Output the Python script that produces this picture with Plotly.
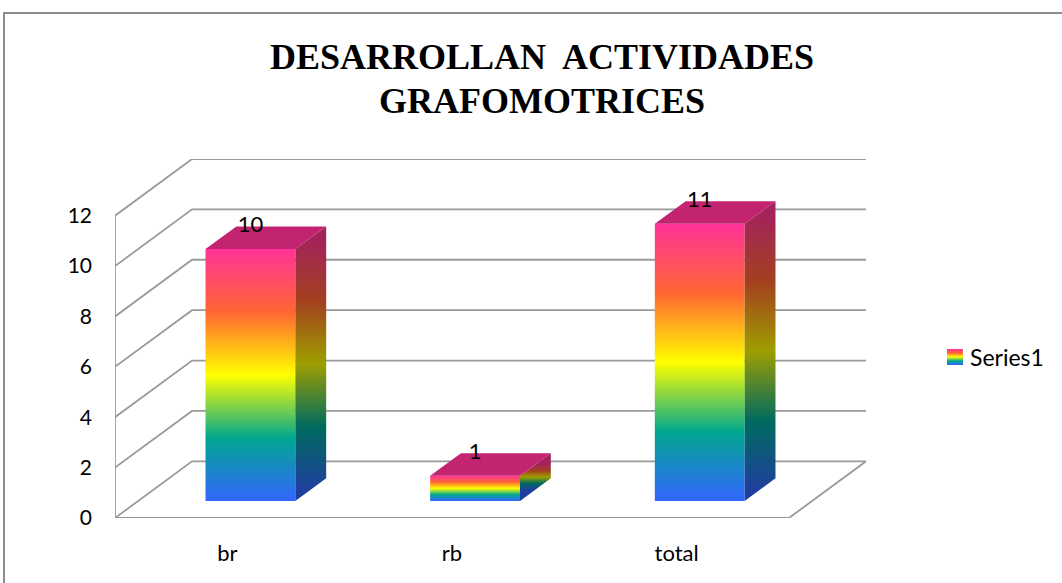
import plotly.graph_objects as go

# ---------------- data ----------------
categories = ["br", "rb", "total"]
values = [10, 1, 11]
y_ticks = [0, 2, 4, 6, 8, 10, 12]
series_name = "Series1"
title_lines = ["DESARROLLAN\u00a0 ACTIVIDADES", "GRAFOMOTRICES"]

# ---------------- style / geometry ----------------
W, H = 1062, 583
PL, PR, PT, PB = 115, 866, 159, 518          # plot area in pixels
DX, DY = 0.343, 2.25                          # depth projection (axis units)
BW = 0.40                                     # bar width (category units)
D0, D1 = 0.3, 0.7                             # bar depth span (fraction)
YMAX = max(y_ticks)

front_scale = [[0, '#3366FF'], [0.25, '#01A78F'], [0.5, '#FFFF00'],
               [0.75, '#FF6633'], [1, '#FF3399']]
side_scale = [[0, '#1F3F9E'], [0.25, '#006B5F'], [0.5, '#9E9E00'],
              [0.75, '#A3401E'], [1, '#A3235C']]
top_color = '#C2246F'
grid_color = '#9A9A9A'
FONT = "Lato"


def proj(x, v, d):
    return x + d * DX, v + d * DY


def px2paper_x(p):
    return p / W


def px2paper_y(p):
    return (H - p) / H


fig = go.Figure()

n = len(categories)
xmin, xmax = -0.5, n - 0.5

# ---- walls / gridlines ----
gx, gy = [], []
for t in y_ticks:
    for (x, v, d) in [(xmin, t, 0), (xmin, t, 1), (xmax, t, 1)]:
        a, b = proj(x, v, d)
        gx.append(a); gy.append(b)
    gx.append(None); gy.append(None)
# front-left vertical axis line
for (x, v, d) in [(xmin, 0, 0), (xmin, YMAX, 0)]:
    a, b = proj(x, v, d); gx.append(a); gy.append(b)
gx.append(None); gy.append(None)
# floor front and right edges
for (x, v, d) in [(xmin, 0, 0), (xmax, 0, 0), (xmax, 0, 1)]:
    a, b = proj(x, v, d); gx.append(a); gy.append(b)

fig.add_trace(go.Scatter(x=gx, y=gy, mode='lines',
                         line=dict(color=grid_color, width=1.8),
                         hoverinfo='skip', showlegend=False))

# ---- 3D bars ----
for i, v in enumerate(values):
    xl, xr = i - BW / 2, i + BW / 2
    # front face
    pts = [proj(xl, 0, D0), proj(xr, 0, D0), proj(xr, v, D0), proj(xl, v, D0), proj(xl, 0, D0)]
    fig.add_trace(go.Scatter(
        x=[p[0] for p in pts], y=[p[1] for p in pts], mode='lines',
        fill='toself', line=dict(width=0),
        fillgradient=dict(type='vertical', colorscale=front_scale,
                          start=D0 * DY, stop=v + D0 * DY),
        name=series_name, showlegend=False, hoverinfo='skip'))
    # side face
    pts = [proj(xr, 0, D0), proj(xr, 0, D1), proj(xr, v, D1), proj(xr, v, D0), proj(xr, 0, D0)]
    fig.add_trace(go.Scatter(
        x=[p[0] for p in pts], y=[p[1] for p in pts], mode='lines',
        fill='toself', line=dict(width=0),
        fillgradient=dict(type='vertical', colorscale=side_scale,
                          start=(D0 + D1) / 2 * DY, stop=v + (D0 + D1) / 2 * DY),
        showlegend=False, hoverinfo='skip'))
    # top face
    pts = [proj(xl, v, D0), proj(xr, v, D0), proj(xr, v, D1), proj(xl, v, D1), proj(xl, v, D0)]
    fig.add_trace(go.Scatter(
        x=[p[0] for p in pts], y=[p[1] for p in pts], mode='lines',
        fill='toself', fillcolor=top_color, line=dict(width=0),
        showlegend=False, hoverinfo='skip'))

# ---- data labels ----
lx = [i + D0 * DX for i in range(n)]
ly = [v + D1 * DY for v in values]
fig.add_trace(go.Scatter(x=lx, y=ly, mode='text', text=[str(v) for v in values],
                         textposition='middle center',
                         textfont=dict(family=FONT, size=22, color='#000000'),
                         showlegend=False, hoverinfo='skip', cliponaxis=False))

# ---- legend swatch (own small axes) ----
fig.add_trace(go.Scatter(x=[0, 1, 1, 0, 0], y=[0, 0, 1, 1, 0], mode='lines',
                         fill='toself', line=dict(width=0),
                         fillgradient=dict(type='vertical', colorscale=front_scale,
                                           start=0, stop=1),
                         xaxis='x2', yaxis='y2', showlegend=False, hoverinfo='skip'))

annotations = [dict(text=series_name, xref='paper', yref='paper',
                    x=px2paper_x(968), y=px2paper_y(357), xanchor='left',
                    yanchor='middle', showarrow=False,
                    font=dict(family=FONT, size=23, color='#000000'))]
for k, (line, yc) in enumerate(zip(title_lines, [57, 101])):
    annotations.append(dict(text=line, xref='paper', yref='paper',
                            x=px2paper_x(542), y=px2paper_y(yc),
                            xanchor='center', yanchor='middle', showarrow=False,
                            font=dict(family="Liberation Serif", size=36,
                                      color='#000000', weight='bold')))

fig.update_layout(
    width=W, height=H,
    margin=dict(l=0, r=0, t=0, b=0),
    paper_bgcolor='white', plot_bgcolor='white',
    showlegend=False,
    xaxis=dict(domain=[PL / W, PR / W], range=[xmin, xmax + DX],
               tickvals=list(range(n)), ticktext=categories,
               showgrid=False, zeroline=False, showline=False, ticks='',
               ticklabelstandoff=20, automargin=False, fixedrange=True,
               tickfont=dict(family=FONT, size=22, color='#000000')),
    yaxis=dict(domain=[(H - PB) / H, (H - PT) / H], range=[0, YMAX + DY],
               tickvals=y_ticks, showgrid=False, zeroline=False, showline=False,
               ticks='', ticklabelstandoff=22, automargin=False, fixedrange=True,
               tickfont=dict(family=FONT, size=21, color='#000000')),
    xaxis2=dict(domain=[947 / W, 963 / W], range=[0, 1], visible=False,
                anchor='y2', fixedrange=True),
    yaxis2=dict(domain=[(H - 365) / H, (H - 349) / H], range=[0, 1],
                visible=False, anchor='x2', fixedrange=True),
    annotations=annotations,
    shapes=[dict(type='rect', xref='paper', yref='paper',
                 x0=px2paper_x(4), y0=-0.05, x1=1.05, y1=px2paper_y(13),
                 line=dict(color='#8C8C8C', width=2), fillcolor='rgba(0,0,0,0)',
                 layer='below')],
)

fig.write_html("out.html", config={'displayModeBar': False},
               post_script="document.body.style.margin='0';")
